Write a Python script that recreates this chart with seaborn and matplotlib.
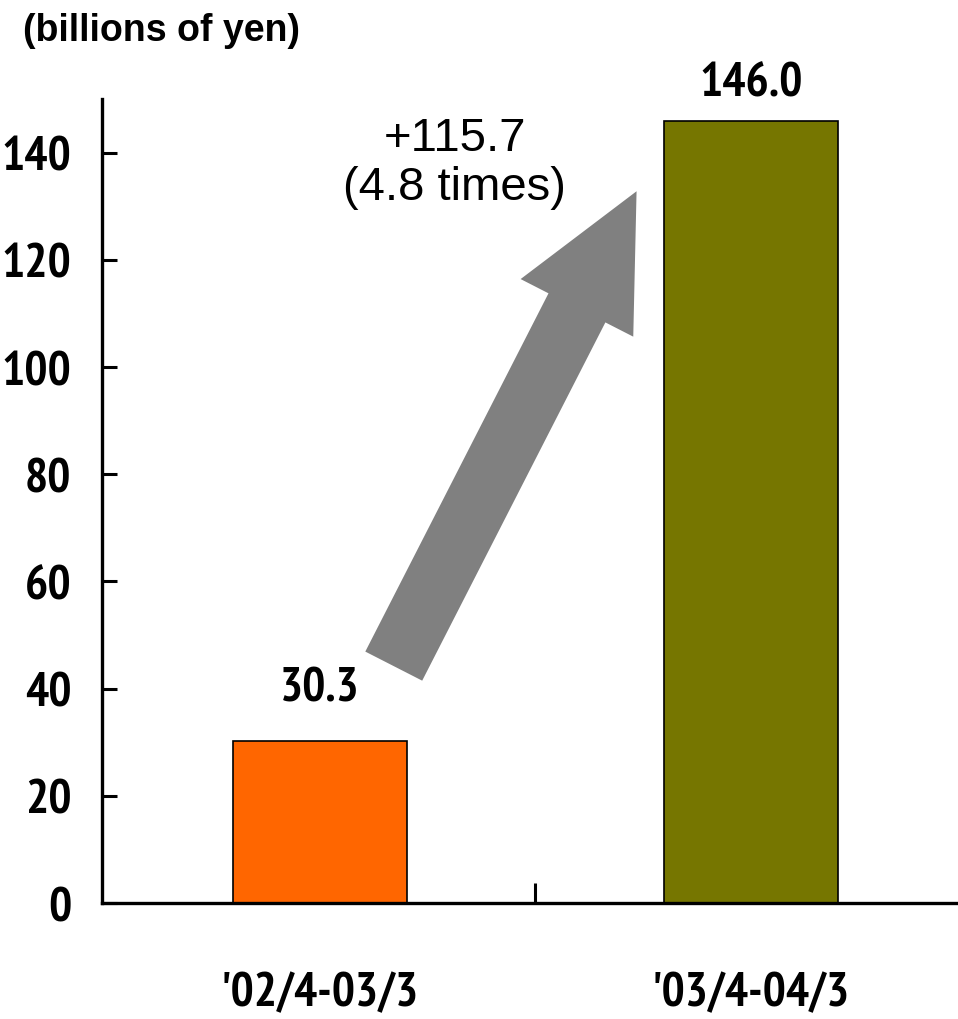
import matplotlib
matplotlib.use("Agg")
import matplotlib.pyplot as plt
from matplotlib import font_manager
from matplotlib.font_manager import FontProperties
from matplotlib.patches import FancyArrowPatch
import seaborn as sns
import pandas as pd

# Data
periods = ["'02/4-03/3", "'03/4-04/3"]
values = [30.3, 146.0]
bar_colors = ["#FF6600", "#767600"]
increase_text = "+115.7\n(4.8 times)"
unit_label = "(billions of yen)"
y_ticks = [0, 20, 40, 60, 80, 100, 120, 140]

sns.set_theme(style="ticks")
plt.rcParams["font.family"] = ["Liberation Sans", "DejaVu Sans"]
for key in ("text.color", "axes.labelcolor", "xtick.color", "ytick.color", "axes.edgecolor"):
    plt.rcParams[key] = "black"


def narrow_bold_font():
    """Pick a condensed bold face if one is installed."""
    found = []
    for f in font_manager.fontManager.ttflist:
        name = f"{f.name} {f.fname}".lower()
        condensed = ("narrow" in name or "condensed" in name
                     or str(f.stretch) in ("condensed", "semi-condensed", "extra-condensed"))
        bold = str(f.weight) in ("bold", "700", "heavy", "800") or "bold" in f.fname.lower()
        if condensed and bold and "oblique" not in f.fname.lower() and "italic" not in f.fname.lower():
            found.append(f)
    if found:
        found.sort(key=lambda f: (0 if "narrow" in f.fname.lower() else 1, f.fname))
        return FontProperties(fname=found[0].fname), True
    return FontProperties(family="Liberation Sans", weight="bold"), False


narrow_fp, is_condensed = narrow_bold_font()
label_size = 35 if is_condensed else 32
narrow_fp.set_size(label_size)

df = pd.DataFrame({"period": periods, "value": values})

fig = plt.figure(figsize=(9.58, 10.2), dpi=100)
ax = fig.add_axes([0.1065, 0.1137, 0.8935, 0.7882])

sns.barplot(data=df, x="period", y="value", hue="period", palette=bar_colors,
            width=0.403, edgecolor="black", linewidth=1.2, legend=False,
            saturation=1, ax=ax)

ax.set_xlim(-0.505, 1.48)
ax.set_ylim(0, 150)
ax.set_xlabel("")
ax.set_ylabel("")
sns.despine(ax=ax, top=True, right=True)
for side in ("left", "bottom"):
    ax.spines[side].set_linewidth(2.4)
    ax.spines[side].set_color("black")

# y axis ticks point inward
ax.set_yticks(y_ticks)
ax.tick_params(axis="y", direction="in", length=11, width=2.2, pad=22, colors="black")
# category labels without ticks; a divider tick between categories
ax.tick_params(axis="x", which="major", length=0, pad=49, colors="black")
ax.set_xticks([0.5], minor=True)
ax.tick_params(axis="x", which="minor", direction="in", length=14.5, width=2.2, color="black")

for lab in ax.get_xticklabels() + ax.get_yticklabels():
    lab.set_fontproperties(narrow_fp)
    lab.set_color("black")

# value labels above bars
pads = [22, 11]
for cont, pad in zip(ax.containers, pads):
    for t in ax.bar_label(cont, fmt="%.1f", padding=pad, color="black"):
        t.set_fontproperties(narrow_fp)

# growth arrow from the first bar towards the second
arrow = FancyArrowPatch((0.1715, 44.2), (0.7346, 132.8),
                        arrowstyle="simple,head_length=2.05,head_width=1.98,tail_width=1",
                        mutation_scale=46, color="#808080", lw=0,
                        shrinkA=0, shrinkB=0, zorder=3)
ax.add_patch(arrow)

ax.text(0.313, 138.2, increase_text, ha="center", va="center",
        multialignment="center", fontsize=34, color="black",
        family=["Liberation Sans", "DejaVu Sans"], linespacing=1.15)

fig.text(0.024, 0.987, unit_label, ha="left", va="top", fontsize=27,
         fontweight="bold", color="black", family=["Liberation Sans", "DejaVu Sans"])

fig.savefig("out.png", dpi=100)
